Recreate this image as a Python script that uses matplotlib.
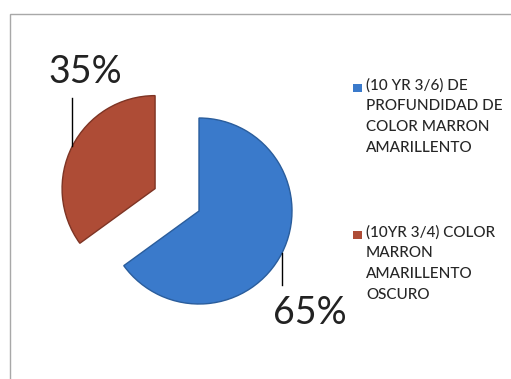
import numpy as np
import matplotlib
matplotlib.use("Agg")
import matplotlib.pyplot as plt
from matplotlib.patches import Rectangle

plt.rcParams["font.family"] = ["Lato", "DejaVu Sans"]

labels = [
    "(10 YR 3/6) DE\nPROFUNDIDAD DE\nCOLOR MARRON\nAMARILLENTO",
    "(10YR 3/4) COLOR\nMARRON\nAMARILLENTO\nOSCURO",
]
values = [65, 35]
colors = ["#3a7acb", "#ae4c36"]
edges = ["#2a5d9c", "#7e3424"]

W, H = 511, 379
fig = plt.figure(figsize=(W / 100, H / 100), dpi=100)
ax = fig.add_axes([0, 0, 1, 1])

# chart frame (scan cut it at right/bottom)
ax.add_patch(Rectangle((10, -5), W, H - 14 + 5, fill=False, ec="#a8a8a8", lw=1.0))

cx, cy, r = 199, H - 211, 93
# pie explode is in data units here, so scale by the radius
explode = [0.0, 0.53 * r]
wedges, _ = ax.pie(
    values, colors=colors, startangle=90, counterclock=False,
    explode=explode, radius=r, center=(cx, cy), frame=True,
    wedgeprops=dict(linewidth=1.0),
)
ax.set_xlim(0, W)
ax.set_ylim(0, H)
ax.axis("off")

for w, ec in zip(wedges, edges):
    w.set_edgecolor(ec)

# percentage labels with vertical leader lines (blue down, red up)
lead = [32, 48]
for w, v, dl in zip(wedges, values, lead):
    mid = np.deg2rad((w.theta1 + w.theta2) / 2)
    x0 = w.center[0] + w.r * np.cos(mid)
    y0 = w.center[1] + w.r * np.sin(mid)
    if v < 50:
        ax.plot([x0, x0], [y0, y0 + dl], color="black", lw=1.0)
        ax.text(x0 + 13, y0 + dl + 8, f"{v}%", fontsize=27, ha="center",
                va="bottom", color="#222222")
    else:
        ax.plot([x0, x0], [y0, y0 - dl], color="black", lw=1.0)
        ax.text(x0 + 28, y0 - dl - 10, f"{v}%", fontsize=27, ha="center",
                va="top", color="#222222")

# legend
ytop = [H - 81, H - 228]
for lab, c, y in zip(labels, colors, ytop):
    ax.add_patch(Rectangle((353, y - 11), 9, 8, fc=c, ec="none"))
    ax.text(366, y + 3, lab, fontsize=11, ha="left", va="top", linespacing=1.62,
            color="#262626", fontweight="medium")

fig.savefig("out.png", dpi=100)
